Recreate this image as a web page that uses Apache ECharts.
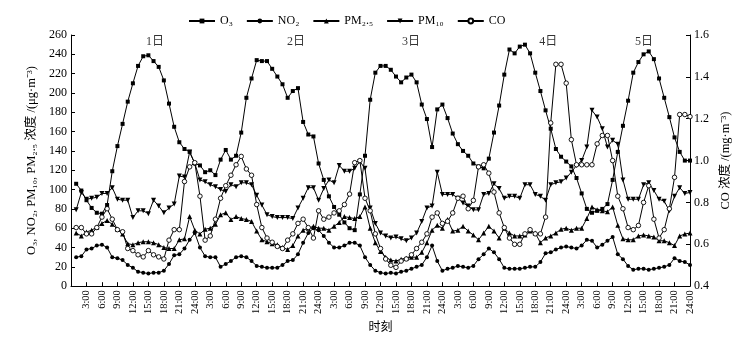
<!DOCTYPE html>
<html>
<head>
<meta charset="utf-8">
<script src="https://cdn.jsdelivr.net/npm/echarts@6/dist/echarts.min.js"></script>
<style>
html,body{margin:0;padding:0;background:#fff;}
#main{width:745px;height:339px;}
</style>
</head>
<body>
<div id="main"></div>
<script>
// 刻度文字（每3小时一个）
var hourTicks = ['3:00','6:00','9:00','12:00','15:00','18:00','21:00','24:00'];
var dayNames = ['1日','2日','3日','4日','5日'];
var dayNameHour = [16.3, 43.6, 65.9, 92.5, 111.1];

// 逐时浓度, 1日1:00 -> 5日24:00
var o3 = [106,99,89,81,76,75,84,119,145,168,191,210,228,238,239,233,227,213,189,165,149,142,139,127,
	125,118,120,115,131,141,131,135,159,195,215,234,233,233,225,217,209,195,202,205,170,157,155,127,
	110,93,82,74,66,60,58,95,135,193,221,228,228,224,217,211,216,219,211,188,173,144,183,188,
	174,158,147,140,135,127,124,122,132,159,187,219,245,241,248,250,241,221,202,182,163,142,134,129,
	124,112,96,80,76,78,80,85,110,139,166,192,221,232,240,243,235,215,195,175,154,139,130,130];
var no2 = [30,31,38,39,42,43,40,30,29,27,22,19,15,14,13,14,14,16,23,32,33,39,48,55,
	40,31,30,30,20,23,26,30,31,30,26,21,20,19,19,19,22,26,27,33,45,55,60,58,
	52,45,40,40,42,45,45,42,30,22,16,14,13,14,13,15,16,18,20,22,30,42,26,16,
	18,19,21,20,19,21,28,33,39,35,28,19,18,18,18,19,20,20,25,34,35,38,40,41,
	40,39,42,48,47,40,43,47,51,33,28,21,17,18,18,17,18,19,20,22,29,26,25,22];
var pm25 = [55,52,56,58,61,65,68,64,59,54,44,43,45,46,46,45,43,40,39,39,48,49,72,58,
	54,59,60,64,74,76,69,72,70,69,67,57,48,46,44,43,40,38,42,52,58,60,62,60,
	60,58,62,66,72,71,70,72,82,60,45,36,30,27,26,28,29,30,30,35,45,58,63,60,
	69,57,58,62,57,53,48,55,62,57,50,60,55,52,52,53,57,55,45,50,52,55,59,60,
	58,60,60,70,82,79,78,77,82,63,49,48,48,52,53,52,51,47,47,45,42,52,54,55];
var pm10 = [79,97,90,91,92,96,96,102,90,89,89,71,78,78,75,89,83,76,81,85,114,113,139,127,
	110,108,105,103,100,98,105,103,107,107,105,94,84,74,72,71,71,71,70,81,91,102,102,89,
	101,110,107,125,119,119,122,129,122,81,65,55,52,50,51,49,47,50,55,67,81,83,118,95,
	95,95,91,86,83,79,79,95,96,106,101,91,93,93,91,105,105,95,93,89,105,107,108,112,
	118,125,130,144,182,175,163,144,151,147,110,90,90,90,105,107,99,90,88,78,93,102,96,97];
var co = [0.68,0.68,0.65,0.65,0.68,0.73,0.77,0.72,0.67,0.66,0.58,0.57,0.55,0.54,0.57,0.55,0.54,0.53,0.62,0.67,0.67,0.90,0.97,0.99,
	0.83,0.62,0.64,0.72,0.82,0.88,0.93,0.98,1.02,0.96,0.93,0.79,0.68,0.63,0.61,0.59,0.58,0.62,0.65,0.70,0.72,0.68,0.63,0.76,
	0.72,0.73,0.75,0.76,0.79,0.84,0.99,1.00,0.82,0.76,0.65,0.58,0.53,0.50,0.49,0.52,0.53,0.55,0.58,0.61,0.65,0.73,0.75,0.70,
	0.71,0.75,0.82,0.83,0.77,0.81,0.97,0.98,0.94,0.85,0.75,0.68,0.63,0.60,0.60,0.65,0.67,0.65,0.65,0.73,1.18,1.46,1.46,1.37,
	1.10,0.98,0.98,0.98,0.98,1.08,1.12,1.12,1.00,0.83,0.77,0.68,0.67,0.69,0.80,0.88,0.72,0.63,0.67,0.77,0.92,1.22,1.22,1.21];

var names = ['O\u2083','NO\u2082','PM\u2082.\u2085','PM\u2081\u2080','CO'];
var fontFam = "'Liberation Serif','Times New Roman','Noto Sans CJK SC',serif";

//按小时序号生成坐标点
function toPoints(arr){
	var out = [];
	for(var i=0;i<arr.length;i++){
		out.push([i+1, arr[i]]);
	}
	return out;
}

function lineSeries(name, data, symbol, size, rotate, yIdx, hollow){
	return {
		name: name,
		type: 'line',
		data: toPoints(data),
		yAxisIndex: yIdx,
		symbol: symbol,
		symbolSize: size,
		symbolRotate: rotate,
		showAllSymbol: true,
		lineStyle: {color:'#000', width:1},
		// 空心圆用白色填充+黑色描边
		itemStyle: hollow ? {color:'#fff', borderColor:'#000', borderWidth:0.9}
			: {color:'#000', borderWidth:0},
		emphasis: {disabled:true},
		z: 3
	};
}

var dayLabelData = [];
for(var i=0;i<dayNames.length;i++){
	dayLabelData.push({name: dayNames[i], value:[dayNameHour[i], 253]});
}

var chart = echarts.init(document.getElementById('main'));
var option = {
	animation: false,
	textStyle: {fontFamily: fontFam, color:'#000'},
	legend: {
		data: names,
		top: 10,
		left: 183,
		itemWidth: 26,
		itemHeight: 6,
		itemGap: 13,
		textStyle: {fontFamily: fontFam, fontSize: 12, color:'#000'}
	},
	grid: {left: 71, right: 55, top: 35, bottom: 50},
	xAxis: {
		type: 'value',
		min: 0,
		max: 120,
		interval: 3,
		name: '时刻',
		nameLocation: 'middle',
		nameGap: 34,
		nameTextStyle: {fontSize: 12, color:'#000', fontFamily: fontFam},
		axisLine: {lineStyle:{color:'#000', width:1}},
		axisTick: {inside: true, length: 4, lineStyle:{color:'#000'}},
		splitLine: {show:false},
		axisLabel: {
			rotate: 90,
			fontSize: 10.5,
			color:'#000',
			margin: 4,
			fontFamily: fontFam,
			formatter: function(v){
				if(v <= 0) return '';
				return hourTicks[(v/3 - 1) % 8];
			}
		}
	},
	yAxis: [{
		type: 'value',
		min: 0,
		max: 260,
		interval: 20,
		name: 'O\u2083, NO\u2082, PM\u2081\u2080, PM\u2082.\u2085 浓度 /(μg·m\u207B\u00B3)',
		nameLocation: 'middle',
		nameRotate: 90,
		nameGap: 25,
		nameTextStyle: {fontSize: 12.5, color:'#000', fontFamily: fontFam},
		axisLine: {show:true, lineStyle:{color:'#000', width:1}},
		axisTick: {inside: true, length: 4, lineStyle:{color:'#000'}},
		splitLine: {show:false},
		axisLabel: {fontSize: 12, color:'#000', margin: 4, fontFamily: fontFam}
	},{
		type: 'value',
		min: 0.4,
		max: 1.6,
		interval: 0.2,
		position: 'right',
		name: 'CO 浓度 /(mg·m\u207B\u00B3)',
		nameLocation: 'middle',
		nameRotate: 90,
		nameGap: 22,
		nameTextStyle: {fontSize: 12.5, color:'#000', fontFamily: fontFam},
		axisLine: {show:true, lineStyle:{color:'#000', width:1}},
		axisTick: {inside: true, length: 4, lineStyle:{color:'#000'}},
		splitLine: {show:false},
		axisLabel: {fontSize: 12, color:'#000', margin: 4, fontFamily: fontFam,
			formatter: function(v){ return v.toFixed(1); }}
	}],
	series: [
		lineSeries(names[0], o3, 'rect', 4, 0, 0, false),
		lineSeries(names[1], no2, 'circle', 4, 0, 0, false),
		lineSeries(names[2], pm25, 'triangle', 5, 0, 0, false),
		lineSeries(names[3], pm10, 'triangle', 5, 180, 0, false),
		lineSeries(names[4], co, 'circle', 4.5, 0, 1, true),
		{
			type: 'scatter',
			data: dayLabelData,
			symbolSize: 0,
			silent: true,
			label: {show:true, position:'inside', formatter:'{b}', fontSize:12, color:'#000', fontFamily: fontFam}
		}
	]
};
chart.setOption(option);
</script>
</body>
</html>
